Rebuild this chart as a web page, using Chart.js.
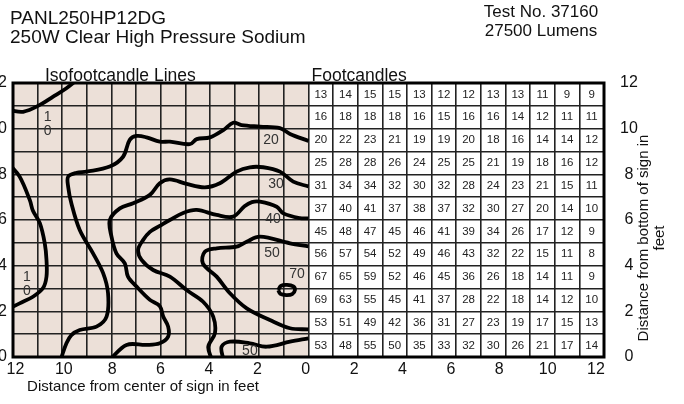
<!DOCTYPE html>
<html>
<head>
<meta charset="utf-8">
<script src="https://cdn.jsdelivr.net/npm/chart.js@4.4.1/dist/chart.umd.min.js"></script>
<style>
body { margin: 0; background: #fff; font-family: "Liberation Sans", Arial, sans-serif; }
#wrap { position: relative; width: 684px; height: 404px; overflow: hidden; }
#myChart { position: absolute; left: 0; top: 0; }
.hdr { position: absolute; color: #111; white-space: nowrap; }
</style>
</head>
<body>
<div id="wrap">
<canvas id="myChart" width="684" height="404"></canvas>
<div class="hdr" style="left:10px;top:8px;font-size:19px;line-height:19px;">PANL250HP12DG<br>250W Clear High Pressure Sodium</div>
<div class="hdr" style="left:441px;top:2px;width:200px;font-size:17px;line-height:19px;text-align:center;">Test No. 37160<br>27500 Lumens</div>
</div>
<script>
// tick labels
const xTicks = [-12, -10, -8, -6, -4, -2, 0, 2, 4, 6, 8, 10, 12];

// footcandle table, rows from top (11-12 ft) to bottom (0-1 ft), columns 0-12 ft
const footcandles = [
    [13, 14, 15, 15, 13, 12, 12, 13, 13, 11, 9, 9],
    [16, 18, 18, 18, 16, 15, 16, 16, 14, 12, 11, 11],
    [20, 22, 23, 21, 19, 19, 20, 18, 16, 14, 14, 12],
    [25, 28, 28, 26, 24, 25, 25, 21, 19, 18, 16, 12],
    [31, 34, 34, 32, 30, 32, 28, 24, 23, 21, 15, 11],
    [37, 40, 41, 37, 38, 37, 32, 30, 27, 20, 14, 10],
    [45, 48, 47, 45, 46, 41, 39, 34, 26, 17, 12, 9],
    [56, 57, 54, 52, 49, 46, 43, 32, 22, 15, 11, 8],
    [67, 65, 59, 52, 46, 45, 36, 26, 18, 14, 11, 9],
    [69, 63, 55, 45, 41, 37, 28, 22, 18, 14, 12, 10],
    [53, 51, 49, 42, 36, 31, 27, 23, 19, 17, 15, 13],
    [53, 48, 55, 50, 35, 33, 32, 30, 26, 21, 17, 14]
];

// isofootcandle lines, [x ft (negative = left of center), y ft]
const iso10Top = [[-12.1, 10.80], [-11.59, 10.74], [-10.91, 11.04], [-10.37, 11.40], [-9.83, 11.77], [-9.5, 12.05]];
const iso10Left = [[-12.1, 8.38], [-11.73, 7.90], [-11.32, 6.88], [-11.19, 6.40], [-10.91, 5.86], [-10.71, 4.98],
    [-10.64, 4.25], [-10.64, 3.52], [-10.78, 3.02], [-11.19, 2.64], [-11.73, 2.35], [-12.1, 2.16]];
const iso20 = [[0, 9.46], [-0.75, 9.77], [-1.16, 10.02], [-1.97, 10.09], [-2.72, 10.16], [-3.06, 10.26],
    [-3.46, 9.94], [-4.0, 9.62], [-4.54, 9.54], [-4.82, 9.32], [-5.63, 9.43], [-6.04, 9.43], [-6.58, 9.62],
    [-6.98, 9.68], [-7.26, 9.51], [-7.53, 8.77], [-8.07, 8.34], [-9.02, 8.12], [-9.42, 8.07], [-9.76, 7.90],
    [-9.76, 7.46], [-9.63, 6.73], [-9.29, 5.56], [-8.75, 4.54], [-8.34, 3.67], [-8.14, 2.79], [-8.20, 1.77],
    [-8.61, 1.33], [-9.29, 1.18], [-9.63, 0.96], [-9.83, 0.60], [-10.06, -0.1]];
const iso30 = [[0, 7.47], [-0.62, 7.68], [-1.16, 8.12], [-1.84, 8.31], [-2.38, 8.31], [-2.92, 8.12],
    [-3.60, 7.61], [-4.21, 7.43], [-4.95, 7.58], [-5.63, 7.78], [-6.04, 7.61], [-6.44, 7.10], [-7.12, 6.73],
    [-7.66, 6.51], [-8.07, 6.0], [-8.0, 5.27], [-7.80, 4.54], [-7.46, 4.10], [-7.33, 3.52], [-6.98, 3.08],
    [-6.44, 2.50], [-6.04, 2.23], [-5.90, 1.77], [-5.70, 1.33], [-5.70, 0.89], [-6.04, 0.60], [-6.58, 0.53],
    [-7.39, 0.53], [-8.05, -0.1]];
const iso40 = [[0, 6.07], [-0.35, 6.08], [-1.02, 6.29], [-1.29, 6.58], [-1.97, 6.80], [-2.3, 6.78],
    [-2.6, 6.6], [-3.06, 6.15], [-3.73, 6.22], [-4.54, 6.44], [-5.09, 6.31], [-5.63, 6.0], [-6.04, 5.74],
    [-6.44, 5.48], [-6.72, 5.12], [-6.92, 4.69], [-6.78, 4.25], [-6.31, 3.81], [-5.63, 3.52], [-4.95, 2.93],
    [-4.28, 2.42], [-3.87, 1.77], [-3.80, 1.04], [-4.07, 0.45], [-3.93, -0.1]];
const iso50Upper = [[0, 4.84], [-0.75, 4.98], [-1.97, 5.27], [-2.51, 5.05], [-2.92, 4.83], [-3.73, 4.76],
    [-4.21, 4.61], [-4.29, 4.10], [-3.73, 3.52], [-3.19, 2.79], [-2.51, 2.13], [-1.57, 1.62], [-0.75, 1.26],
    [0, 1.21]];
const iso70 = [[-1.23, 2.93], [-1.12, 3.12], [-0.87, 3.16], [-0.62, 3.09], [-0.55, 2.93], [-0.66, 2.75],
    [-0.9, 2.71], [-1.14, 2.76], [-1.23, 2.93]];
const iso50Lower = [[-3.46, -0.1], [-3.53, 0.45], [-3.19, 0.67], [-2.38, 0.60], [-1.70, 0.45], [-0.75, 0.67],
    [0, 0.82]];

// line labels
const isoLabels = ['20', '30', '40', '50', '70', '50'];
const isoLabelX = [-1.52, -1.32, -1.44, -1.48, -0.47, -2.38];
const isoLabelY = [9.50, 7.58, 6.04, 4.56, 3.64, 0.26];
const stackedLabelX = [-10.59, -11.44];
const stackedLabelY = [10.18, 3.2];

const FONT = '"Liberation Sans", Arial, sans-serif';
Chart.defaults.font.family = FONT;

const overlay = {
    id: 'overlay',
    beforeDraw(chart) {
        const {ctx, chartArea: a, scales: {x}} = chart;
        ctx.save();
        ctx.fillStyle = '#ece0d8';
        ctx.fillRect(a.left, a.top, x.getPixelForValue(0) - a.left, a.bottom - a.top);
        ctx.restore();
    },
    afterDatasetsDraw(chart) {
        const {ctx, chartArea: a, scales: {x, y}} = chart;
        ctx.save();
        ctx.textAlign = 'center';
        ctx.textBaseline = 'middle';

        ctx.font = '11.5px ' + FONT;
        ctx.fillStyle = '#222';
        footcandles.forEach(function (row, r) {
            row.forEach(function (v, c) {
                ctx.fillText(v, x.getPixelForValue(c + 0.5), y.getPixelForValue(11.5 - r));
            });
        });

        ctx.font = '14px ' + FONT;
        ctx.fillStyle = '#333';
        isoLabels.forEach(function (t, i) {
            ctx.fillText(t, x.getPixelForValue(isoLabelX[i]), y.getPixelForValue(isoLabelY[i]));
        });
        // the two "10" labels are written one digit above the other
        stackedLabelX.forEach(function (lx, i) {
            const px = x.getPixelForValue(lx), py = y.getPixelForValue(stackedLabelY[i]);
            ctx.fillText('1', px, py - 7);
            ctx.fillText('0', px, py + 7);
        });

        ctx.lineWidth = 3;
        ctx.strokeStyle = '#000';
        ctx.strokeRect(a.left, a.top, a.right - a.left, a.bottom - a.top);

        ctx.fillStyle = '#111';
        ctx.textAlign = 'left';
        ctx.textBaseline = 'alphabetic';
        ctx.font = '17.5px ' + FONT;
        ctx.fillText('Isofootcandle Lines', a.left + 32, a.top - 2);
        ctx.fillText('Footcandles', x.getPixelForValue(0) + 3, a.top - 2);

        ctx.textAlign = 'center';
        ctx.textBaseline = 'middle';
        ctx.font = '15px ' + FONT;
        ctx.fillText('Distance from center of sign in feet', a.left + 130, a.bottom + 30);

        ctx.translate(a.right + 40, a.top + 155);
        ctx.rotate(-Math.PI / 2);
        ctx.fillText('Distance from bottom of sign in', 0, 0);
        ctx.fillText('feet', 0, 16);
        ctx.restore();
    }
};

const isoLines = [iso10Top, iso10Left, iso20, iso30, iso40, iso50Upper, iso70, iso50Lower];

const config = {
    type: 'line',
    data: {
        datasets: isoLines.map(function (pts) {
            return {
                data: pts.map(p => ({x: p[0], y: p[1]})),
                borderColor: '#000',
                borderWidth: 3.8,
                pointRadius: 0,
                tension: 0.35,
                fill: false,
                xAxisID: 'x',
                yAxisID: 'y'
            };
        })
    },
    options: {
        responsive: false,
        animation: false,
        events: [],
        layout: { padding: { top: 83, left: 0, right: 0, bottom: 0 } },
        plugins: {
            legend: { display: false },
            tooltip: { enabled: false }
        },
        scales: {
            x: {
                type: 'linear', min: -12, max: 12, position: 'bottom',
                grid: { color: '#222', lineWidth: 1.6, drawTicks: false },
                border: { display: false },
                ticks: { stepSize: 1, display: false },
                afterFit: function (s) { s.height = 0; }
            },
            xl: {
                type: 'linear', min: -12.1, max: 12.33, position: 'bottom',
                grid: { display: false },
                border: { display: false },
                ticks: {
                    color: '#111', font: { size: 16 }, padding: -5, maxRotation: 0, autoSkip: false,
                    callback: function (v) { return Math.abs(v); }
                },
                afterBuildTicks: function (s) { s.ticks = xTicks.map(v => ({value: v})); },
                afterFit: function (s) { s.height = 47; }
            },
            y: {
                type: 'linear', min: 0, max: 12, position: 'left',
                grid: { color: '#222', lineWidth: 1.6, drawTicks: false },
                border: { display: false },
                ticks: {
                    stepSize: 1, padding: 6, color: '#111', font: { size: 16 },
                    callback: function (v) { return v % 2 === 0 ? v : ''; }
                },
                afterFit: function (s) { s.width = 13; }
            },
            yr: {
                type: 'linear', min: 0, max: 12, position: 'right',
                grid: { display: false },
                border: { display: false },
                ticks: { stepSize: 2, padding: 8, crossAlign: 'center', color: '#111', font: { size: 16 } },
                afterFit: function (s) { s.width = 80; }
            }
        }
    },
    plugins: [overlay]
};

var myChart = new Chart(
    document.getElementById('myChart'),
    config
);
</script>
</body>
</html>
